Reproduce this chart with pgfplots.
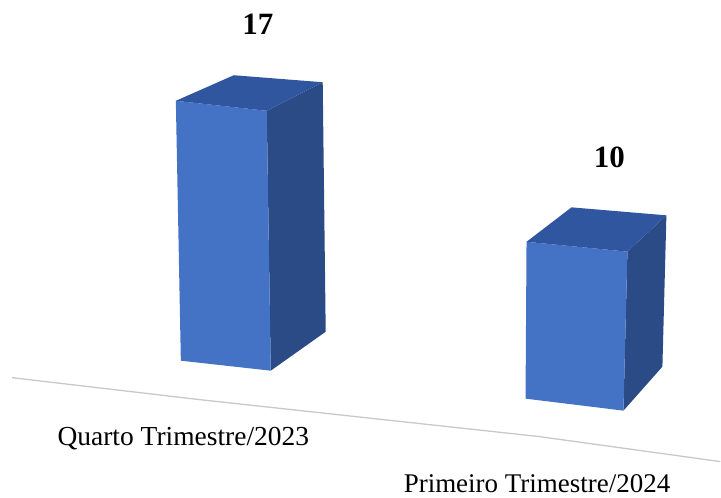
\documentclass[border=0pt]{standalone}
\usepackage{pgfplots}
\usepackage{pgfplotstable}
\pgfplotsset{compat=1.18}
\usepackage{fontspec}
\setmainfont{Liberation Serif}

\definecolor{frontblue}{HTML}{4472C4}
\definecolor{sideblue}{HTML}{2A4B85}
\definecolor{topblue}{HTML}{3156A0}
\definecolor{floorgray}{HTML}{C8C8C8}

% Quarterly counts
\pgfplotstableread{
label value
{Quarto Trimestre/2023} 17
{Primeiro Trimestre/2024} 10
}\quarters
\pgfplotstablegetelem{0}{value}\of\quarters \let\vA\pgfplotsretval
\pgfplotstablegetelem{1}{value}\of\quarters \let\vB\pgfplotsretval

% Drawing units per count
\def\k{15.3}

\begin{document}
\begin{tikzpicture}
\begin{axis}[
  x=1pt, y=1pt,
  xmin=0, xmax=721, ymin=0, ymax=498,
  y dir=reverse,
  hide axis, clip=false,
]
% canvas extent
\addplot[draw=none, forget plot] coordinates {(0,0) (721,498)};

% floor line
\addplot[floorgray, line width=1.3pt] coordinates {(12,378) (200,400) (540,437) (721,462)};

% ---- bar 1: faces built from base vertices, raised by the count ----
% columns: x, base y, perspective factor s, top flag t
\addplot[fill=sideblue, draw=none] table[x=x, y expr=\thisrow{yb}-\thisrow{t}*\thisrow{s}*\k*\vA] {
x yb s t
271 371 1.00 0
326 332 0.96 0
323 332 0.96 1
267 371 1.00 1
} -- cycle;
\addplot[fill=frontblue, draw=none] table[x=x, y expr=\thisrow{yb}-\thisrow{t}*\thisrow{s}*\k*\vA] {
x yb s t
181 361 1.00 0
271 371 1.00 0
267 371 1.00 1
176 361 1.00 1
} -- cycle;
\addplot[fill=topblue, draw=none] table[x=x, y expr=\thisrow{yb}-\thisrow{t}*\thisrow{s}*\k*\vA] {
x yb s t
176 361 1.00 1
267 371 1.00 1
323 332 0.96 1
234 325 0.96 1
} -- cycle;

% ---- bar 2 ----
\addplot[fill=sideblue, draw=none] table[x=x, y expr=\thisrow{yb}-\thisrow{t}*\thisrow{s}*\k*\vB] {
x yb s t
624 411 1.04 0
663 367 0.99 0
667 367 0.99 1
628 411 1.04 1
} -- cycle;
\addplot[fill=frontblue, draw=none] table[x=x, y expr=\thisrow{yb}-\thisrow{t}*\thisrow{s}*\k*\vB] {
x yb s t
526 399 1.026 0
624 411 1.04 0
628 411 1.04 1
527 399 1.026 1
} -- cycle;
\addplot[fill=topblue, draw=none] table[x=x, y expr=\thisrow{yb}-\thisrow{t}*\thisrow{s}*\k*\vB] {
x yb s t
527 399 1.026 1
628 411 1.04 1
667 367 0.99 1
572 359 0.99 1
} -- cycle;

% value labels
\node[font=\fontsize{31}{31}\selectfont\bfseries] at (axis cs:258,{361-\k*\vA-77}) {\vA};
\node[font=\fontsize{31}{31}\selectfont\bfseries] at (axis cs:610,{399-1.026*\k*\vB-85}) {\vB};

% category labels
\node[anchor=base, font=\fontsize{27.5}{27.5}\selectfont] at (axis cs:183.5,446) {Quarto Trimestre/2023};
\node[anchor=base, font=\fontsize{27}{27}\selectfont] at (axis cs:537.5,493) {Primeiro Trimestre/2024};
\end{axis}
\end{tikzpicture}
\end{document}
